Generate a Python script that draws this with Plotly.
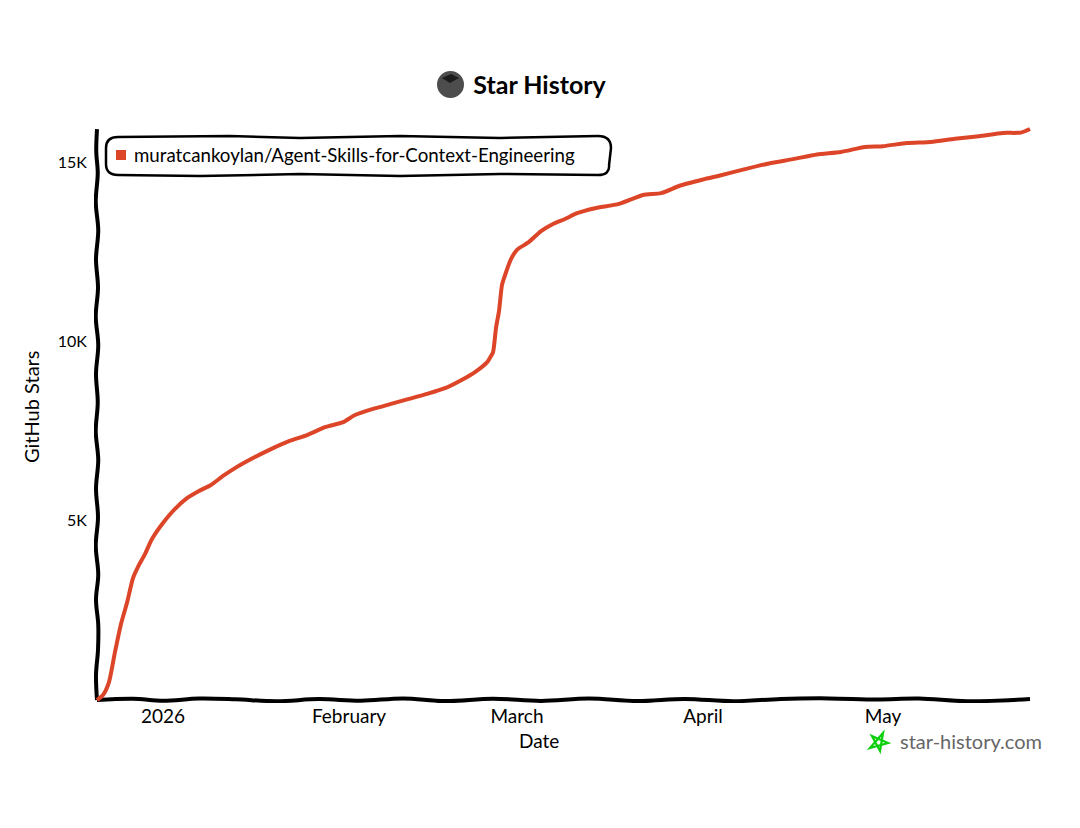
import plotly.graph_objects as go

# Star count
dates = [
    "2025-12-21", "2025-12-22", "2025-12-23", "2025-12-24", "2025-12-25", "2025-12-26",
    "2025-12-27", "2025-12-28", "2025-12-29", "2025-12-30", "2025-12-31", "2026-01-01",
    "2026-01-03", "2026-01-05", "2026-01-07", "2026-01-09", "2026-01-11", "2026-01-13",
    "2026-01-16", "2026-01-19", "2026-01-22", "2026-01-25", "2026-01-28", "2026-01-31",
    "2026-02-02", "2026-02-05", "2026-02-08", "2026-02-11", "2026-02-14", "2026-02-17",
    "2026-02-20", "2026-02-22", "2026-02-24", "2026-02-24 12:00", "2026-02-25",
    "2026-02-25 12:00", "2026-02-26", "2026-02-26 12:00", "2026-02-27", "2026-02-28",
    "2026-03-01", "2026-03-03", "2026-03-05", "2026-03-07", "2026-03-09", "2026-03-11",
    "2026-03-14", "2026-03-18", "2026-03-22", "2026-03-25", "2026-03-28", "2026-04-01",
    "2026-04-04", "2026-04-08", "2026-04-12", "2026-04-16", "2026-04-20", "2026-04-24",
    "2026-04-28", "2026-05-01", "2026-05-05", "2026-05-09", "2026-05-13", "2026-05-17",
    "2026-05-21", "2026-05-24", "2026-05-25 12:00",
]
stars = [
    0, 140, 500, 1340, 2120, 2710,
    3400, 3770, 4070, 4440, 4710, 4940,
    5330, 5630, 5830, 6000, 6250, 6470,
    6750, 7000, 7220, 7390, 7610, 7750,
    7950, 8120, 8260, 8400, 8540, 8700,
    8950, 9150, 9420, 9550, 9700,
    10380, 10850, 11580, 11850, 12300,
    12560, 12780, 13080, 13280, 13420, 13580,
    13720, 13840, 14090, 14140, 14340, 14520,
    14640, 14810, 14970, 15090, 15220, 15290,
    15430, 15450, 15540, 15570, 15660, 15730,
    15820, 15830, 15930,
]
repo_name = "muratcankoylan/Agent-Skills-for-Context-Engineering"

x_tick_vals = ["2026-01-01", "2026-02-01", "2026-03-01", "2026-04-01", "2026-05-01"]
x_tick_text = ["2026", "February", "March", "April", "May"]
y_tick_vals = [5000, 10000, 15000]
y_tick_text = ["5K", "10K", "15K"]

# hand drawn wobble of the two axis lines
bottom_dates = ["2025-12-21", "2025-12-27", "2026-01-01", "2026-01-07", "2026-01-13", "2026-01-20",
                "2026-01-27", "2026-02-03", "2026-02-10", "2026-02-17", "2026-02-25", "2026-03-05",
                "2026-03-13", "2026-03-21", "2026-03-29", "2026-04-06", "2026-04-14", "2026-04-22",
                "2026-04-30", "2026-05-07", "2026-05-15", "2026-05-25 12:00"]
bottom_wobble = [0, 35, -20, 40, 20, -35, 25, -20, 45, -30, 35, -25, 40, -30, 30, -35, 30, 45, 15, 40, -35, 25]
left_stars = [0, 700, 1400, 2100, 2800, 3500, 4300, 5100, 5900, 6700, 7500, 8300, 9100, 9900, 10700,
              11500, 12300, 13100, 13900, 14700, 15300, 15930]
left_wobble = ["2025-12-21", "2025-12-20 20:00", "2025-12-21 04:00", "2025-12-21 05:00", "2025-12-20 20:00",
               "2025-12-21 05:00", "2025-12-20 19:00", "2025-12-21 04:00", "2025-12-20 20:00",
               "2025-12-21 05:00", "2025-12-20 19:00", "2025-12-21 03:00", "2025-12-20 20:00",
               "2025-12-21 05:00", "2025-12-20 19:00", "2025-12-21 04:00", "2025-12-20 20:00",
               "2025-12-21 05:00", "2025-12-20 19:00", "2025-12-21 03:00", "2025-12-20 21:00",
               "2025-12-21 00:00"]

line_color = "#dd4528"
font_name = "Lato"
# the page body has an 8px margin, so the figure sits 8px in
PAGE = 8
W, H = 1064, 812
L, R, T, B = 86, 39, 118, 117


def px(x):
    return (x - PAGE - L) / (W - L - R)


def py(y):
    return (H - B - (y - PAGE)) / (H - B - T)


def path(points, close=False):
    d = "M " + " L ".join(f"{px(a):.4f},{py(b):.4f}" for a, b in points)
    return d + " Z" if close else d


fig = go.Figure()

# axis lines
fig.add_trace(go.Scatter(x=bottom_dates, y=bottom_wobble, mode="lines", line=dict(color="black", width=4, shape="spline"),
                         hoverinfo="skip", showlegend=False))
fig.add_trace(go.Scatter(x=left_wobble, y=left_stars, mode="lines", line=dict(color="black", width=4, shape="spline"),
                         hoverinfo="skip", showlegend=False))

fig.add_trace(go.Scatter(x=dates, y=stars, mode="lines", name=repo_name,
                         line=dict(color=line_color, width=4, shape="spline", smoothing=0.6), showlegend=False))

legend_box = ("M {},{} Q {},{} {},{} ".format(px(106), py(148), px(106), py(137), px(118), py(137))
              + " ".join(f"L {px(a):.4f},{py(b):.4f}" for a, b in [(230, 136), (300, 138), (400, 136), (500, 138), (598, 136)])
              + " Q {},{} {},{} ".format(px(611), py(136), px(611), py(148))
              + f"L {px(609):.4f},{py(165):.4f} "
              + "Q {},{} {},{} ".format(px(610), py(175), px(598), py(175))
              + " ".join(f"L {px(a):.4f},{py(b):.4f}" for a, b in [(500, 174), (400, 176), (300, 174), (200, 176), (118, 175)])
              + " Q {},{} {},{} Z".format(px(106), py(175), px(106), py(164)))

star_logo = [(883, 733), (880, 751), (872, 736), (888, 743), (870, 748)]

fig.update_layout(
    width=W, height=H, margin=dict(l=L, r=R, t=T, b=B, autoexpand=False),
    paper_bgcolor="white", plot_bgcolor="white",
    font=dict(family=font_name, size=16, color="black"),
    showlegend=False,
    title=dict(text="<b>Star History</b>", x=px(539.5), xanchor="center", xref="paper", y=1 - (85 - PAGE) / H, yanchor="middle",
               font=dict(family=font_name, size=25)),
    shapes=[
        dict(type="path", xref="paper", yref="paper", path=legend_box, line=dict(color="black", width=2.5), fillcolor="white", layer="below"),
        dict(type="rect", xref="paper", yref="paper", x0=px(116), x1=px(126), y0=py(150), y1=py(160),
             fillcolor=line_color, line=dict(color=line_color, width=0)),
        dict(type="circle", xref="paper", yref="paper", x0=px(437), x1=px(464), y0=py(98), y1=py(71),
             fillcolor="#4d4d4d", line=dict(width=0)),
        dict(type="path", xref="paper", yref="paper", path=path([(442, 78), (450, 83), (459, 78), (451, 74)], close=True),
             fillcolor="#1c1c1c", line=dict(width=0)),
        dict(type="path", xref="paper", yref="paper", path=path(star_logo, close=True), fillcolor="rgba(0,0,0,0)",
             line=dict(color="#0ccf0c", width=2.2)),
    ],
    annotations=[
        dict(text=repo_name, xref="paper", yref="paper", x=px(132), y=py(155), xanchor="left", yanchor="middle",
             showarrow=False, font=dict(size=18.7)),
        dict(text="Date", xref="paper", yref="paper", x=px(539), y=py(741), xanchor="center", yanchor="middle",
             showarrow=False, font=dict(size=19)),
        dict(text="GitHub Stars", xref="paper", yref="paper", x=px(31), y=py(407), xanchor="center", yanchor="middle",
             textangle=-90, showarrow=False, font=dict(size=20)),
        dict(text="star-history.com", xref="paper", yref="paper", x=px(898), y=py(741), xanchor="left", yanchor="middle",
             showarrow=False, font=dict(size=20, color="#666666")),
    ],
)

fig.update_xaxes(range=["2025-12-20 12:00", "2026-05-26"], tickmode="array", tickvals=x_tick_vals, ticktext=x_tick_text,
                 showgrid=False, zeroline=False, showline=False, ticks="", ticklen=0, tickangle=0, automargin=False,
                 tickfont=dict(size=19))
fig.update_yaxes(range=[-84, 16014], tickmode="array", tickvals=y_tick_vals, ticktext=y_tick_text,
                 showgrid=False, zeroline=False, showline=False, ticks="outside", ticklen=3, tickcolor="rgba(0,0,0,0)",
                 automargin=False, tickfont=dict(size=16))

fig.write_html("out.html")
